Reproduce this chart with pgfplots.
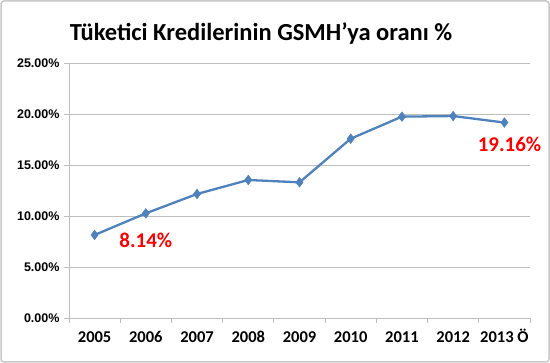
\documentclass[border=0pt]{standalone}
\usepackage{fontspec}
\setmainfont{Carlito}
\newfontfamily\ylabfont{Liberation Sans}
\usepackage{pgfplots}
\pgfplotsset{compat=1.18}
\definecolor{lineblue}{RGB}{79,129,189}
\definecolor{gridgray}{RGB}{190,190,190}
\definecolor{bordergray}{RGB}{200,200,200}
\begin{document}
\begin{tikzpicture}[x=1pt,y=1pt]
\useasboundingbox (0,0) rectangle (550,363);
\draw[bordergray, line width=1.5pt, rounded corners=3pt] (1,1) rectangle (549,362);
\node[anchor=base, font=\fontsize{24.5}{28}\selectfont\bfseries] at (261,322) {Tüketici Kredilerinin GSMH’ya oranı \%};
\begin{axis}[
  at={(69pt,45pt)}, anchor=south west,
  scale only axis, width=461pt, height=255pt,
  xmin=-0.5, xmax=8.5, ymin=0, ymax=25,
  axis x line*=bottom, axis y line*=left,
  axis line style={gridgray, line width=0.8pt},
  xtick={0,...,8},
  xticklabels={2005,2006,2007,2008,2009,2010,2011,2012,2013 Ö},
  major x tick style={draw=none},
  minor xtick={-0.5,0.5,...,8.5},
  minor x tick style={gridgray, line width=0.8pt},
  minor tick length=5pt,
  ytick={0,5,10,15,20,25},
  major y tick style={gridgray, line width=0.8pt},
  major tick length=5pt,
  tick align=outside,
  ymajorgrids,
  grid style={gridgray, line width=0.8pt},
  /pgf/number format/assume math mode=true,
  yticklabel={\pgfmathprintnumber[fixed,fixed zerofill,precision=2]{\tick}\%},
  yticklabel style={font=\ylabfont\fontsize{12.5}{14}\selectfont\bfseries, xshift=-1pt},
  xticklabel style={font=\fontsize{16.5}{18}\selectfont\bfseries, text height=11pt, text depth=2pt, anchor=north, yshift=-5pt},
  clip=false,
]
\addplot[lineblue, line width=2.3pt, mark=diamond*, mark size=4.8pt, mark options={fill=lineblue, draw=lineblue, line width=0.5pt}]
 coordinates {(0,8.14) (1,10.26) (2,12.16) (3,13.53) (4,13.3) (5,17.58) (6,19.74) (7,19.8) (8,19.16)};
\node[text=red, font=\fontsize{21}{24}\selectfont\bfseries] at (axis cs:1,7.6) {8.14\%};
\node[text=red, font=\fontsize{21}{24}\selectfont\bfseries] at (axis cs:8.1,17.05) {19.16\%};
\end{axis}
\end{tikzpicture}
\end{document}
